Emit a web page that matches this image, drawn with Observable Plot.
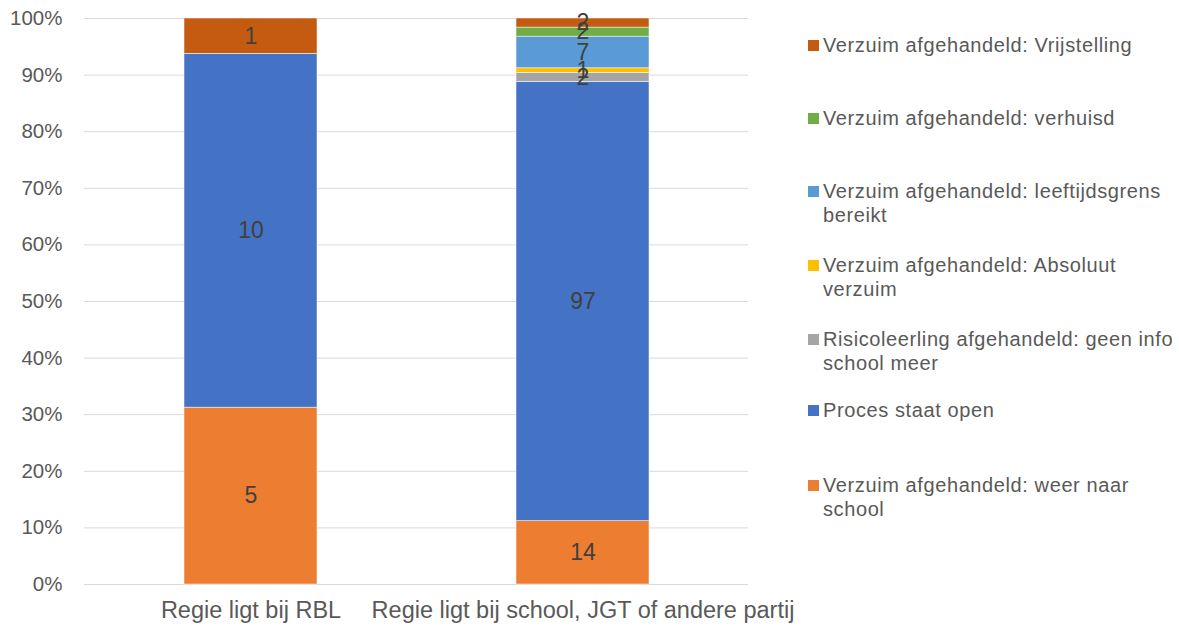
<!DOCTYPE html>
<html>
<head>
<meta charset="utf-8">
<script src="https://cdn.jsdelivr.net/npm/d3@7"></script>
<script src="https://cdn.jsdelivr.net/npm/@observablehq/plot@0.6"></script>
<style>
  html, body { margin: 0; padding: 0; background: #fff; }
  #wrap { position: relative; width: 1179px; height: 626px; font-family: "Liberation Sans", Arial, sans-serif; }
  #chart { position: absolute; left: 0; top: 0; }
  .leg { position: absolute; left: 808px; display: flex; align-items: flex-start; color: #595959; font-size: 20px; letter-spacing: 0.6px; line-height: 24px; white-space: pre-line; }
  .sw { width: 11px; height: 11px; margin-top: 7px; margin-right: 4px; flex: none; }
</style>
</head>
<body>
<div id="wrap"><div id="chart"></div><div id="legend"></div></div>
<script>
const categories = ["Regie ligt bij RBL", "Regie ligt bij school, JGT of andere partij"];
const series = [
  "Verzuim afgehandeld: weer naar school",
  "Proces staat open",
  "Risicoleerling afgehandeld: geen info school meer",
  "Verzuim afgehandeld: Absoluut verzuim",
  "Verzuim afgehandeld: leeftijdsgrens bereikt",
  "Verzuim afgehandeld: verhuisd",
  "Verzuim afgehandeld: Vrijstelling"
];
const colors = ["#ED7D31", "#4472C4", "#A5A5A5", "#FFC000", "#5B9BD5", "#70AD47", "#C55A11"];
const valuesRBL = [5, 10, 0, 0, 0, 0, 1];
const valuesSchool = [14, 97, 2, 1, 7, 2, 2];
const legendLabels = [
  "Verzuim afgehandeld: Vrijstelling",
  "Verzuim afgehandeld: verhuisd",
  "Verzuim afgehandeld: leeftijdsgrens\nbereikt",
  "Verzuim afgehandeld: Absoluut\nverzuim",
  "Risicoleerling afgehandeld: geen info\nschool meer",
  "Proces staat open",
  "Verzuim afgehandeld: weer naar\nschool"
];
const legendTops = [33, 106, 179, 253, 327, 398, 473];
const yTicks = [0, 0.1, 0.2, 0.3, 0.4, 0.5, 0.6, 0.7, 0.8, 0.9, 1];

const data = [];
[valuesRBL, valuesSchool].forEach((vals, ci) => {
  vals.forEach((v, si) => {
    if (v > 0) data.push({cat: categories[ci], series: series[si], value: v});
  });
});

const stackOpts = {x: "cat", y: "value", z: "series", order: series, offset: "normalize"};

const plot = Plot.plot({
  width: 1179,
  height: 626,
  marginLeft: 84,
  marginRight: 431,
  marginTop: 18,
  marginBottom: 42,
  style: {fontFamily: "Liberation Sans, Arial, sans-serif", background: "transparent", overflow: "visible"},
  x: {domain: categories, paddingInner: 0.6, paddingOuter: 0.3, label: null},
  y: {domain: [0, 1], label: null},
  color: {domain: series, range: colors},
  marks: [
    Plot.ruleY(yTicks, {stroke: "#d9d9d9", strokeWidth: 1}),
    Plot.barY(data, Plot.stackY({...stackOpts, fill: "series", stroke: "#fff", strokeWidth: 0.5})),
    Plot.text(data, Plot.stackY({...stackOpts, text: "value", fill: "#404040", fontSize: 23})),
    Plot.axisY({ticks: yTicks, tickFormat: d3.format(".0%"), tickSize: 0, tickPadding: 22, fontSize: 20.5, fill: "#595959", label: null}),
    Plot.axisX({tickSize: 0, tickPadding: 17, fontSize: 23.5, fill: "#595959", label: null, textOverflow: "clip"})
  ]
});
document.getElementById("chart").appendChild(plot);

const leg = document.getElementById("legend");
legendLabels.forEach((lab, i) => {
  const color = colors[series.indexOf(lab.replace("\n", " "))];
  const item = document.createElement("div");
  item.className = "leg";
  item.style.top = legendTops[i] + "px";
  const sw = document.createElement("div");
  sw.className = "sw";
  sw.style.background = color;
  const t = document.createElement("div");
  t.textContent = lab;
  item.appendChild(sw);
  item.appendChild(t);
  leg.appendChild(item);
});
</script>
</body>
</html>
